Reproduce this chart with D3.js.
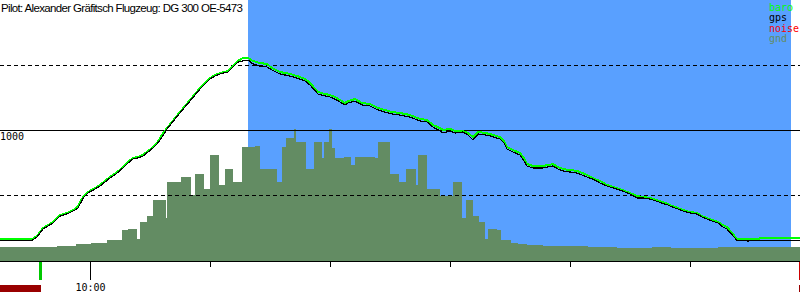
<!DOCTYPE html>
<html><head><meta charset="utf-8">
<script src="https://cdnjs.cloudflare.com/ajax/libs/d3/7.8.5/d3.min.js"></script>
<style>
html,body{margin:0;padding:0;background:#fff;}
svg{display:block;}
</style></head>
<body>
<script>
// ---- data (time = minutes since midnight, altitude = metres) ----
const title = "Pilot: Alexander Gräfitsch Flugzeug: DG 300 OE-5473";
const legendNames = ["baro", "gps", "noise", "gnd"];
const legendColors = ["#00ff00", "#000000", "#ff0000", "#638c63"];
const timeTicks = [600, 630, 660, 690, 720, 750];
const timeTickLabels = ["10:00", "", "", "", "", ""];
const altLines = [500, 1000, 1500];
const altLabels = ["1000"];

const baroTime = [577.5,585.5,586.75,588.25,589.5,590.75,592.5,594.25,596.25,597,597.5,598.5,599.5,601.25,602.5,603.75,605,606.5,608.25,609.5,610.75,612,613.25,614.5,615.75,616.75,617.5,618.5,619.25,620.25,621.25,622.5,623.75,625,626.25,627.5,628.75,630,631.25,632.5,634.5,635.5,637,638.25,639.5,640.75,642.5,644.25,645.5,647.5,650,652.5,653.75,655,657,658.75,660,661.25,662.5,663.75,664.5,666.25,668,670,672,673.75,675.5,677.5,680,682.5,684.25,685.75,687.5,688.25,690,691.25,693.25,694.5,695.75,697,698.75,700,702.5,703.5,704.25,705.75,707.5,708.5,709.25,710.75,713.25,715.75,717,718.25,720,721.75,724.25,726.25,727.5,729.25,730.75,732.5,733.75,735,736.75,738.25,740,741.5,743,744.5,745.5,747,748.25,750,751.75,753,754.25,755.5,757,758.25,759.25,760.75,761.75,767,767.5,777.5];
const baroAlt = [159,159,185,246,269,292,346,362,392,415,446,492,523,554,577,608,638,669,715,754,785,792,808,838,869,900,938,985,1015,1054,1092,1138,1185,1231,1277,1323,1362,1400,1423,1438,1454,1485,1531,1554,1554,1531,1515,1508,1477,1446,1431,1408,1392,1362,1292,1277,1269,1254,1231,1208,1223,1238,1208,1200,1169,1154,1138,1131,1115,1085,1077,1038,1015,1000,1008,992,992,977,946,985,977,969,946,915,869,846,823,785,738,723,723,738,715,700,692,685,654,623,608,577,562,546,531,515,492,485,477,462,446,431,415,400,385,369,362,338,323,308,292,269,254,200,159,159,167,167];

const gpsTime = [577.5,585.5,586.75,588.25,589.5,590.75,592.5,594.25,596.25,597,597.5,598.5,599.5,601.25,602.5,603.75,605,606.5,608.25,609.5,610.75,612,613.25,614.5,615.75,616.75,617.5,618.5,619.25,620.25,621.25,622.5,623.75,625,626.25,627.5,628.75,630,631.25,632.5,634.5,635.5,637,638.25,639.5,640.75,642.5,644.25,645.5,647.5,650,652.5,653.75,655,657,658.75,660,661.25,662.5,663.75,664.5,666.25,668,670,672,673.75,675.5,677.5,680,682.5,684.25,685.75,687.5,688.25,690,691.25,693.25,694.5,695.75,697,698.75,700,702.5,703.5,704.25,705.75,707.5,708.5,709.25,710.75,713.25,715.75,717,718.25,720,721.75,724.25,726.25,727.5,729.25,730.75,732.5,733.75,735,736.75,738.25,740,741.5,743,744.5,745.5,747,748.25,750,751.75,753,754.25,755.5,757,758.25,759.25,760.75,761.75,764.25,764.5,764.75,777.5];
const gpsAlt = [152,152,177,238,262,285,338,354,385,400,431,485,515,546,569,600,631,662,708,746,777,785,800,831,862,892,923,969,1008,1046,1085,1131,1177,1223,1269,1315,1354,1392,1415,1431,1446,1477,1523,1531,1538,1508,1492,1485,1462,1431,1415,1392,1377,1346,1277,1262,1254,1238,1215,1192,1208,1223,1192,1185,1154,1138,1123,1115,1100,1069,1062,1023,992,977,992,977,985,962,923,969,962,954,931,900,854,831,808,762,723,708,708,723,700,685,677,669,638,615,592,569,554,538,523,508,477,477,469,454,438,423,408,392,377,362,354,331,315,300,285,254,238,185,152,152,142,152,152];

const gndTime = [577.5,591.75,596.5,600.25,604.25,608,609.5,611.75,612.5,614.25,615.75,619,619.25,622.75,625.25,626.25,628.5,630,632.25,633.75,635.75,638,641.25,642.5,646.75,648,649,651,651.5,654,656,658,658.5,659.75,660.5,661.25,663.5,665.25,666.25,671.25,672,675,677.25,679,681.5,682,684.25,687.5,690.75,693,694,695.75,697.25,698.75,699.5,701.75,702.75,705.25,707,709.25,713.25,724.5,731.75,740.5,745.25,757,777.5];
const gndAlt = [102,110,121,128,154,231,238,162,295,341,462,323,600,638,500,662,546,808,577,700,600,869,877,700,600,869,938,1008,908,700,908,785,908,1008,862,785,792,731,792,785,908,662,600,700,577,808,546,492,600,323,462,338,292,162,238,231,154,131,123,115,108,100,92,100,92,100,100];

const highlight = [639.5, 775.25];   // blue band
const takeoff = 587.5, landing = 777.25;
const noiseBands = [[577.5, 587.75], [777.25, 777.5]];

// ---- drawing ----
const W = 800, H = 300;
const svg = d3.select("body").append("svg").attr("width", W).attr("height", H);
const x = d3.scaleLinear().domain([577.5, 777.5]).range([0, 800]);
const y = d3.scaleLinear().domain([0, 2000]).range([260, 0]);
const base = y(0) + 1;

svg.append("rect").attr("width", W).attr("height", H).attr("fill", "#fff");
svg.append("rect").attr("x", x(highlight[0])).attr("y", 0)
  .attr("width", x(highlight[1]) - x(highlight[0])).attr("height", base)
  .attr("fill", "#59a0ff");

const gnd = gndTime.map((t, i) => [t, gndAlt[i]]);
svg.append("path").datum(gnd)
  .attr("d", d3.area().x(d => x(d[0])).y0(base).y1(d => y(d[1])).curve(d3.curveStepAfter))
  .attr("fill", "#638c63").attr("shape-rendering", "crispEdges");

altLines.forEach(a => {
  svg.append("line").attr("x1", 0).attr("x2", W)
    .attr("y1", Math.round(y(a)) + 0.5).attr("y2", Math.round(y(a)) + 0.5)
    .attr("stroke", "#000").attr("stroke-width", 1)
    .attr("stroke-dasharray", a === 1000 ? null : "4,3")
    .attr("shape-rendering", "crispEdges");
});
svg.append("text").attr("x", 0).attr("y", y(1000) + 10)
  .attr("font-family", "DejaVu Sans Mono").attr("font-size", 10).attr("fill", "#000")
  .text(altLabels[0]);

const line = d3.line().x(d => x(d[0])).y(d => y(d[1]));
svg.append("path").datum(baroTime.map((t, i) => [t, baroAlt[i]]))
  .attr("d", line).attr("fill", "none").attr("stroke", legendColors[0]).attr("stroke-width", 2)
  .attr("shape-rendering", "crispEdges");
svg.append("path").datum(gpsTime.map((t, i) => [t, gpsAlt[i]]))
  .attr("d", line).attr("fill", "none").attr("stroke", legendColors[1]).attr("stroke-width", 1.2)
  .attr("shape-rendering", "crispEdges");

// axis
const axis = d3.axisBottom(x).tickValues(timeTicks).tickSize(6)
  .tickFormat((d, i) => timeTickLabels[i]);
const ax = svg.append("g").attr("transform", `translate(0,${base})`).call(axis);
ax.select(".domain").attr("d", `M0,0.5H${W}`).attr("stroke", "#000").attr("shape-rendering", "crispEdges");
ax.selectAll(".tick line").attr("stroke", "#000").attr("shape-rendering", "crispEdges")
  .attr("y2", (d, i) => timeTickLabels[i] ? 19 : 6);
ax.selectAll(".tick text").attr("y", 23).attr("dy", "0.71em")
  .attr("font-family", "DejaVu Sans Mono").attr("font-size", 10).attr("fill", "#000");

// takeoff / landing markers
svg.append("rect").attr("x", x(takeoff) - 1).attr("y", base + 1).attr("width", 3).attr("height", 18).attr("fill", "#00c800");
svg.append("rect").attr("x", x(landing)).attr("y", base + 1).attr("width", 2).attr("height", 18).attr("fill", "#cc0000");
noiseBands.forEach(b => {
  svg.append("rect").attr("x", x(b[0])).attr("y", 285)
    .attr("width", Math.max(1, x(b[1]) - x(b[0]))).attr("height", 7).attr("fill", "#990000");
});

// title
svg.append("text").attr("x", 1).attr("y", 12)
  .attr("font-family", "Liberation Sans, Arial, sans-serif").attr("font-size", 11.5)
  .attr("textLength", 242).attr("fill", "#000").text(title);

// legend
legendNames.forEach((n, i) => {
  svg.append("text").attr("x", 769).attr("y", 11 + i * 10.4)
    .attr("font-family", "DejaVu Sans Mono").attr("font-size", 10)
    .attr("fill", legendColors[i]).text(n);
});
</script>
</body></html>
